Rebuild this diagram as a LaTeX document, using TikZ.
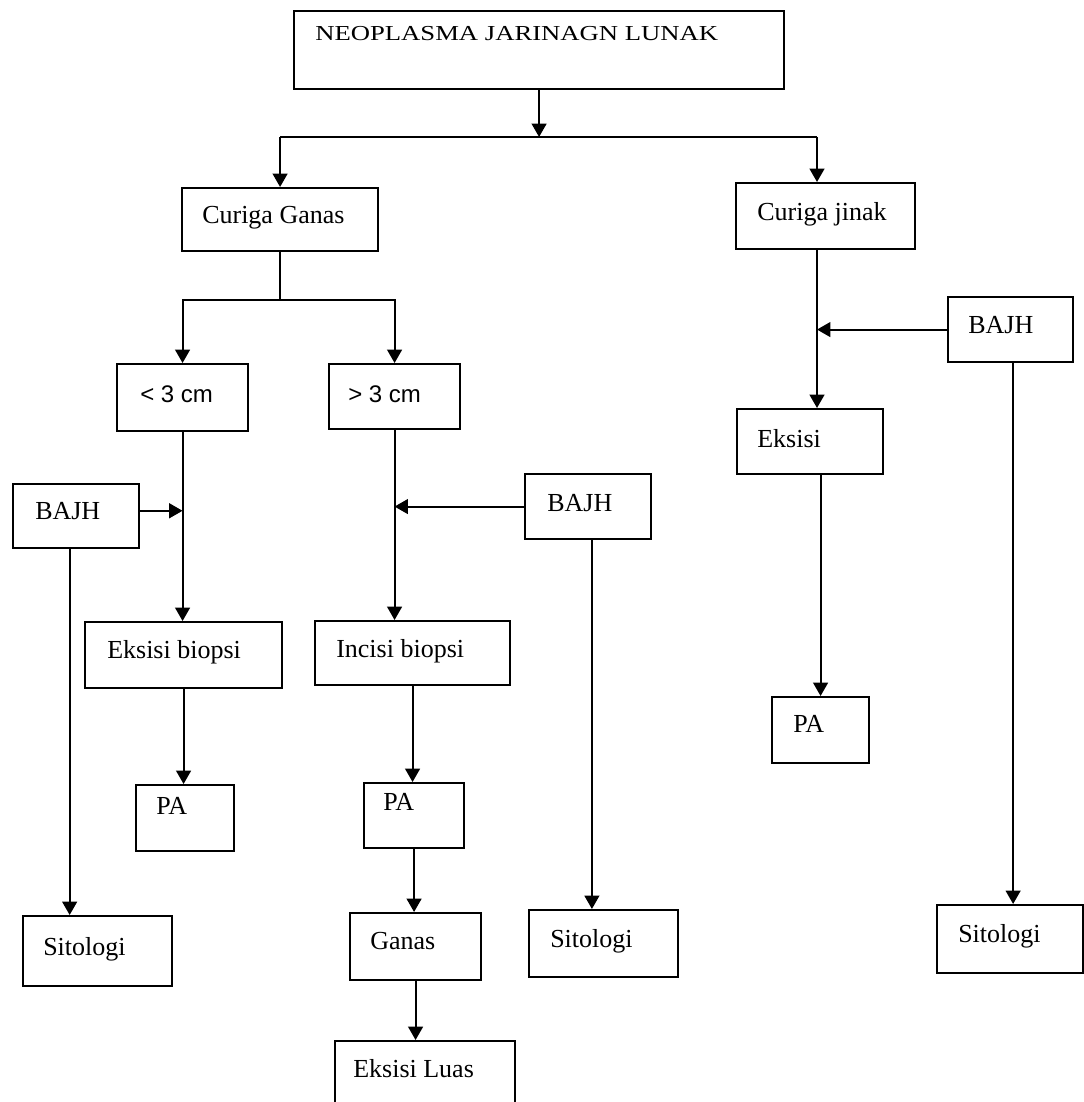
\documentclass[tikz,border=0pt]{standalone}
\usepackage{fontspec}
\setmainfont{Liberation Serif}
\newfontfamily\neofont[FakeStretch=1.25]{Liberation Serif}
\newfontfamily\arialf{Liberation Sans}
\usetikzlibrary{arrows.meta,calc}
\newcommand\mysz{\fontsize{19.5pt}{23pt}\selectfont}
\newcommand\neosz{\neofont\fontsize{16pt}{19pt}\selectfont}
\newcommand\cmsz{\arialf\fontsize{18pt}{21pt}\selectfont}
\tikzset{
  bx/.style={draw, line width=1.6pt, inner sep=0pt, anchor=north west},
  sz/.style 2 args={minimum width=#1*0.75pt, minimum height=#2*0.75pt},
  tx/.style={anchor=base west, inner sep=0pt, font=\mysz},
  ln/.style={line width=1.6pt},
  arr/.style={line width=1.6pt, -{Triangle[length=10pt,width=11pt]}},
}
\begin{document}
\begin{tikzpicture}[x=0.75pt,y=-0.75pt]
\fill[white] (0,0) rectangle (1084,1102);
\useasboundingbox (0,0) rectangle (1084,1102);
% boxes
\node[bx, sz={490}{78}] (neo) at (293,10) {};
\node[bx, sz={196}{63}] (cg) at (181,187) {};
\node[bx, sz={179}{66}] (cj) at (735,182) {};
\node[bx, sz={131}{67}] (lt) at (116,363) {};
\node[bx, sz={131}{65}] (gt) at (328,363) {};
\node[bx, sz={126}{64}] (bl) at (12,483) {};
\node[bx, sz={126}{65}] (bm) at (524,473) {};
\node[bx, sz={125}{65}] (br) at (947,296) {};
\node[bx, sz={197}{66}] (eb) at (84,621) {};
\node[bx, sz={195}{64}] (ib) at (314,620) {};
\node[bx, sz={146}{65}] (ek) at (736,408) {};
\node[bx, sz={98}{66}] (pal) at (135,784) {};
\node[bx, sz={100}{65}] (pam) at (363,782) {};
\node[bx, sz={97}{66}] (par) at (771,696) {};
\node[bx, sz={149}{70}] (sl) at (22,915) {};
\node[bx, sz={131}{67}] (ga) at (349,912) {};
\node[bx, sz={149}{67}] (sm) at (528,909) {};
\node[bx, sz={146}{68}] (sr) at (936,904) {};
\node[bx, sz={180}{90}] (el) at (334,1040) {};
% texts
\node[tx, font=\neosz] (tneo) at (315,41) {NEOPLASMA JARINAGN LUNAK};
\node[tx] (tcg) at (202,223) {Curiga Ganas};
\node[tx] (tcj) at (757,220) {Curiga jinak};
\node[tx, font=\cmsz] (tlt) at (140,402) {< 3 cm};
\node[tx, font=\cmsz] (tgt) at (348,402) {> 3 cm};
\node[tx] (tbl) at (35,519) {BAJH};
\node[tx] (tbm) at (547,511) {BAJH};
\node[tx] (tbr) at (968,333) {BAJH};
\node[tx] (teb) at (107,658) {Eksisi biopsi};
\node[tx] (tib) at (336,657) {Incisi biopsi};
\node[tx] (tek) at (757,447) {Eksisi};
\node[tx] (tpal) at (156,814) {PA};
\node[tx] (tpam) at (383,810) {PA};
\node[tx] (tpar) at (793,732) {PA};
\node[tx] (tsl) at (43,955) {Sitologi};
\node[tx] (tga) at (370,949) {Ganas};
\node[tx] (tsm) at (550,947) {Sitologi};
\node[tx] (tsr) at (958,942) {Sitologi};
\node[tx] (tel) at (353,1077) {Eksisi Luas};
% junctions
\coordinate (j1) at (neo.south |- 0,137);
\coordinate (j2) at (817,137);
\coordinate (j3) at (cg.south |- 0,300);
\coordinate (blx) at ($(bl.south west)!0.45!(bl.south east)$);
\coordinate (bly) at ($(bl.north east)!0.42!(bl.south east)$);
\coordinate (bmx) at ($(bm.south west)!0.53!(bm.south east)$);
\coordinate (brx) at ($(br.south west)!0.52!(br.south east)$);
% connectors
\draw[arr] (neo.south) -- (j1);
\draw[ln] (cg.north |- j1) -- (j2);
\draw[arr] (cg.north |- j1) -- (cg.north);
\draw[arr] (j2) -- (j2 |- cj.north);
\draw[ln] (cg.south) -- (j3);
\draw[arr] (j3) -| (lt.north);
\draw[arr] (j3) -| (gt.north);
\draw[arr] (lt.south) -- (lt.south |- eb.north);
\draw[arr] (gt.south) -- (gt.south |- ib.north);
\draw[arr] (bly) -- (bly -| lt.south);
\draw[arr] (bm.west) -- (bm.west -| gt.south);
\draw[arr] (blx) -- (blx |- sl.north);
\draw[arr] (eb.south) -- (eb.south |- pal.north);
\draw[arr] (ib.south) -- (ib.south |- pam.north);
\draw[arr] (pam.south) -- (pam.south |- ga.north);
\draw[arr] (ga.south) -- (ga.south |- el.north);
\draw[arr] (bmx) -- (bmx |- sm.north);
\draw[arr] (j2 |- cj.south) -- (j2 |- ek.north);
\draw[arr] (br.west) -- (br.west -| j2);
\draw[arr] (par.north |- ek.south) -- (par.north);
\draw[arr] (brx) -- (brx |- sr.north);
\end{tikzpicture}
\end{document}
